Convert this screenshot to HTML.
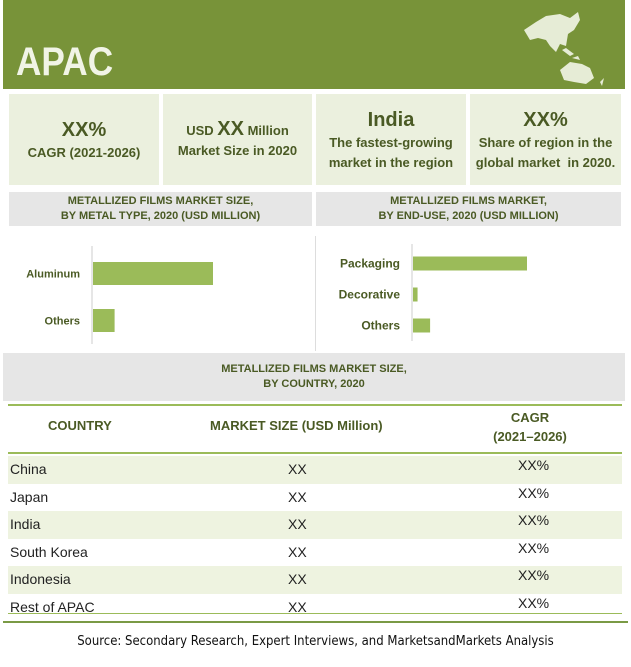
<!DOCTYPE html>
<html><head><meta charset="utf-8"><style>
body{margin:0;width:631px;height:667px;background:#fff;position:relative;overflow:hidden;font-family:"Liberation Sans Narrow","Liberation Sans",sans-serif;}
.a{position:absolute}
.box{position:absolute;top:94px;height:91px;background:#ebf0de;color:#4a5a24;text-align:center;font-size:13px;font-weight:bold;display:flex;flex-direction:column;justify-content:center;line-height:20px}
.gh{position:absolute;background:#e6e6e6;color:#4a5a24;text-align:center;font-size:11px;font-weight:bold;display:flex;flex-direction:column;justify-content:center;line-height:15px}
.row{position:absolute;left:8px;width:614px;height:28px;font-family:"Liberation Sans",sans-serif;font-size:14px;color:#222}
</style></head><body>
<div class="a" style="left:3px;top:0;width:622px;height:89px;background:#789339"></div>
<div class="a" style="left:16px;top:40px;font-size:40px;font-weight:bold;color:#f1f4e6;transform:scaleX(0.88);transform-origin:left">APAC</div>
<svg class="a" style="left:522px;top:8px" width="95" height="80" viewBox="0 0 95 80"><path d="M2 22 L14 14 L24 8 L38 6 L48 10 L56 4 L58 12 L52 22 L46 26 L44 38 L38 36 L34 44 L28 38 L24 32 L16 30 L8 32Z M40 42 L44 40 L52 46 L48 48Z M50 50 L56 48 L58 52Z" fill="#e6ecd6"/><path d="M38 62 L48 54 L60 56 L68 60 L72 70 L64 76 L52 74 L42 72Z M78 74 L82 70 L80 78Z" fill="#e6ecd6"/></svg>
<div class="box" style="left:9px;width:150px"><span style="font-size:20px;line-height:26px">XX%</span>CAGR (2021-2026)</div>
<div class="box" style="left:163px;width:149px"><span>USD <span style="font-size:20px">XX</span> Million</span>Market Size in 2020</div>
<div class="box" style="left:316px;width:150px"><span style="font-size:20px;line-height:26px">India</span>The fastest-growing<br>market in the region</div>
<div class="box" style="left:470px;width:151px"><span style="font-size:20px;line-height:26px">XX%</span>Share of region in the<br>global market&nbsp; in 2020.</div>
<div class="gh" style="left:9px;top:192px;width:303px;height:34px">METALLIZED FILMS MARKET SIZE,<br>BY METAL TYPE, 2020 (USD MILLION)</div>
<div class="gh" style="left:316px;top:192px;width:305px;height:34px">METALLIZED FILMS MARKET,<br>BY END-USE, 2020 (USD MILLION)</div>
<div class="a" style="left:315px;top:236px;width:1px;height:115px;background:#ddd"></div>
<svg class="a" id="charts" style="left:0;top:0" width="631" height="360"></svg>
<div class="gh" style="left:3px;top:353px;width:622px;height:48px">METALLIZED FILMS MARKET SIZE,<br>BY COUNTRY, 2020</div>
<div class="a" style="left:8px;top:404px;width:614px;height:2px;background:#9bbb59"></div>
<div class="a" style="left:48px;top:418px;font-size:13px;font-weight:bold;color:#4a5a24">COUNTRY</div>
<div class="a" style="left:210px;top:418px;font-size:13px;font-weight:bold;color:#4a5a24">MARKET SIZE (USD Million)</div>
<div class="a" style="left:480px;top:408px;width:100px;text-align:center;font-size:13px;font-weight:bold;color:#4a5a24;line-height:19px">CAGR<br>(2021–2026)</div>
<div class="a" style="left:8px;top:452px;width:614px;height:2px;background:#9bbb59"></div>
<div id="rows"></div>
<div class="a" style="left:8px;top:613px;width:614px;height:1px;background:#9bbb59"></div>
<div class="a" style="left:3px;top:621px;width:625px;height:2px;background:#7a9a45"></div>
<div class="a" style="left:0;top:634px;width:631px;text-align:center;font-family:'DejaVu Sans Condensed','Liberation Sans',sans-serif;font-size:13px;color:#111">Source: Secondary Research, Expert Interviews, and MarketsandMarkets Analysis</div>
<script>
const metalCats=["Aluminum","Others"];
const metalVals=[100,18];
const endCats=["Packaging","Decorative","Others"];
const endVals=[100,4,15];
const countries=["China","Japan","India","South Korea","Indonesia","Rest of APAC"];
const sizes=["XX","XX","XX","XX","XX","XX"];
const cagrs=["XX%","XX%","XX%","XX%","XX%","XX%"];
const NS="http://www.w3.org/2000/svg";
const svg=document.getElementById('charts');
function drawChart(cats,vals,x0,wMax,y0,step,bh,labelFs,prefix){
  const max=Math.max(...vals);
  const ax=document.createElementNS(NS,'line');
  ax.setAttribute('x1',x0);ax.setAttribute('x2',x0);ax.setAttribute('y1',y0-8);ax.setAttribute('y2',y0+step*cats.length-4);
  ax.setAttribute('stroke','#ccc');
  
  
  svg.appendChild(ax);
  cats.forEach((c,i)=>{
    const yc=y0+step*i+step/2-4;
    const r=document.createElementNS(NS,'rect');
    r.setAttribute('x',x0+1);r.setAttribute('y',yc-bh/2);r.setAttribute('width',vals[i]/max*wMax);r.setAttribute('height',bh);r.setAttribute('fill','#9bbb59');
    
    
    svg.appendChild(r);
    const t=document.createElementNS(NS,'text');
    t.setAttribute('x',x0-12);t.setAttribute('y',yc+4);t.setAttribute('text-anchor','end');
    t.setAttribute('font-size',labelFs);t.setAttribute('font-weight','bold');t.setAttribute('fill','#4a5a24');
    t.setAttribute('font-family','Liberation Sans Narrow, Liberation Sans, sans-serif');
    t.textContent=c;
    
    
    svg.appendChild(t);
  });
}
drawChart(metalCats,metalVals,92,120,254,47,23,11,'metal');
drawChart(endCats,endVals,412,114,252,31,14,12,'enduse');
const rows=document.getElementById('rows');
countries.forEach((c,i)=>{
  const d=document.createElement('div');
  d.className='row';
  d.style.top=(456+i*27.5)+'px';
  if(i%2===0)d.style.background='#eef3e0';
  d.innerHTML='<span style="position:absolute;left:2px;top:5px">'+c+'</span><span style="position:absolute;left:280px;top:5px">'+sizes[i]+'</span><span style="position:absolute;left:510px;top:1px">'+cagrs[i]+'</span>';
  
  
  rows.appendChild(d);
});
</script>
</body></html>
